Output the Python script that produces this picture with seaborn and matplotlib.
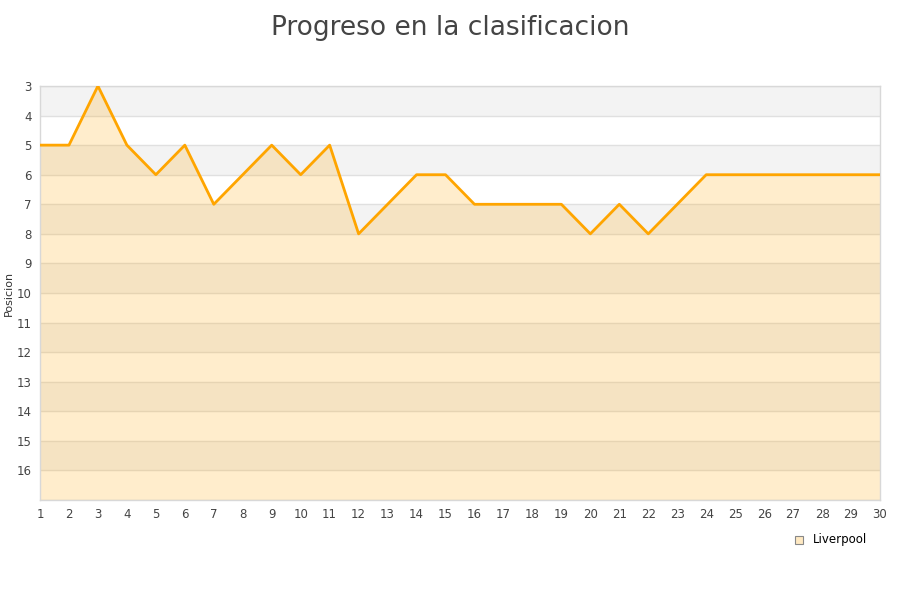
import matplotlib
matplotlib.use("Agg")
import matplotlib.pyplot as plt
import seaborn as sns
import pandas as pd
from matplotlib.patches import Rectangle

# datos de la tabla
jornadas = list(range(1, 31))
posiciones = [5, 5, 3, 5, 6, 5, 7, 6, 5, 6, 5, 8, 7, 6, 6,
              7, 7, 7, 7, 8, 7, 8, 7, 6, 6, 6, 6, 6, 6, 6]
equipo = "Liverpool"
y_ticks = list(range(3, 17))

df = pd.DataFrame({"jornada": jornadas, "posicion": posiciones})

sns.set_style("white")
plt.rcParams["font.family"] = ["DejaVu Sans"]

fig = plt.figure(figsize=(9, 6), dpi=100)
ax = fig.add_axes([40 / 900, 100 / 600, 840 / 900, 414 / 600])

y_min, y_max = 3, 17
# bandas alternas
for y in range(y_min, y_max):
    color = "#f3f3f3" if y % 2 == 1 else "#ffffff"
    ax.axhspan(y, y + 1, color=color, zorder=0, lw=0)
for y in range(y_min, y_max + 1):
    ax.axhline(y, color="#e0e0e0", lw=1, zorder=1)

ax.fill_between(df["jornada"], df["posicion"], y_max, color="#ffa500", alpha=0.2, lw=0, zorder=2)
sns.lineplot(data=df, x="jornada", y="posicion", ax=ax, color="#ffa500", lw=2, zorder=3)

ax.set_xlim(1, 30)
ax.set_ylim(y_max, y_min)
ax.set_xticks(jornadas)
ax.set_yticks(y_ticks)
ax.tick_params(axis="both", labelsize=8.5, colors="#444444", length=0, pad=6)
ax.set_xlabel("")
ax.set_ylabel("Posicion", fontsize=8, color="#333333", labelpad=2)
for s in ax.spines.values():
    s.set_color("#d8d8d8")
    s.set_linewidth(1)

fig.text(0.5, 0.975, "Progreso en la clasificacion", ha="center", va="top",
         fontsize=19, color="#444444")

# leyenda
fig.patches.append(Rectangle((795 / 900, 1 - 544 / 600), 8 / 900, 8 / 600,
                             transform=fig.transFigure, facecolor="#ffe9c2",
                             edgecolor="#888888", lw=0.8))
fig.text(813 / 900, 1 - 539 / 600, equipo, ha="left", va="center", fontsize=8.5, color="#000000")

fig.savefig("out.png", dpi=100)
